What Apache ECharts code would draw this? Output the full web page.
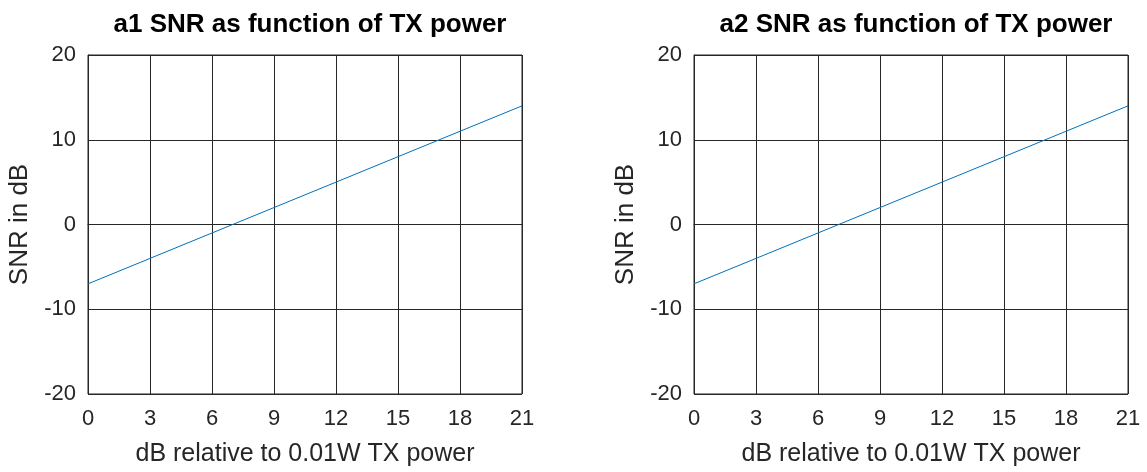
<!DOCTYPE html>
<html>
<head>
<meta charset="utf-8">
<script src="https://cdn.jsdelivr.net/npm/echarts@6/dist/echarts.min.js"></script>
<style>
html,body{margin:0;padding:0;background:#fff;}
#chart{width:1147px;height:472px;}
</style>
</head>
<body>
<div id="chart"></div>
<script>
// Data
const powerDb = [0, 3, 6, 9, 12, 15, 18, 21];
const snrA1 = [-7, -4, -1, 2, 5, 8, 11, 14];
const snrA2 = [-7, -4, -1, 2, 5, 8, 11, 14];
const titles = ['a1 SNR as function of TX power', 'a2 SNR as function of TX power'];
const xName = 'dB relative to 0.01W TX power';
const yName = 'SNR in dB';

const FONT = 'Liberation Sans, Arial, Helvetica, sans-serif';
const TXT = '#262626';
const GRIDC = '#262626';
const LINEC = '#0072BD';

const chart = echarts.init(document.getElementById('chart'));
const grids = [
  {left: 88, right: 625, top: 55, bottom: 76},
  {left: 694, right: 19, top: 55, bottom: 76}
];
function xAxisFor(i) {
  return {
    gridIndex: i, type: 'value', min: 0, max: 21, interval: 3,
    name: xName, nameLocation: 'middle', nameGap: 48,
    nameTextStyle: {fontFamily: FONT, fontSize: 25, color: TXT},
    axisLine: {show: true, lineStyle: {color: GRIDC, width: 1}},
    axisTick: {show: false},
    axisLabel: {fontFamily: FONT, fontSize: 22, color: TXT, margin: 14},
    splitLine: {show: true, lineStyle: {color: GRIDC, width: 1}}
  };
}
function yAxisFor(i) {
  return {
    gridIndex: i, type: 'value', min: -20, max: 20, interval: 10,
    name: yName, nameLocation: 'middle', nameGap: 55, nameRotate: 90,
    nameTextStyle: {fontFamily: FONT, fontSize: 26, color: TXT},
    axisLine: {show: true, lineStyle: {color: GRIDC, width: 1}},
    axisTick: {show: false},
    axisLabel: {fontFamily: FONT, fontSize: 22, color: TXT, margin: 12},
    splitLine: {show: true, lineStyle: {color: GRIDC, width: 1}}
  };
}
const series = [snrA1, snrA2].map((ys, i) => ({
  type: 'line', xAxisIndex: i, yAxisIndex: i,
  data: powerDb.map((x, k) => [x, ys[k]]),
  showSymbol: false, symbol: 'none',
  lineStyle: {color: LINEC, width: 1},
  animation: false
}));
chart.setOption({
  animation: false,
  backgroundColor: '#fff',
  title: titles.map((t, i) => ({
    text: t,
    left: i === 0 ? 305 : 911, top: 7, textAlign: 'center',
    textStyle: {fontFamily: FONT, fontSize: 26, fontWeight: 'bold', color: '#000'}
  })),
  grid: grids.map(g => Object.assign({show: true, borderColor: GRIDC, borderWidth: 1, backgroundColor: 'transparent'}, g)),
  xAxis: [xAxisFor(0), xAxisFor(1)],
  yAxis: [yAxisFor(0), yAxisFor(1)],
  series: series
});
</script>
</body>
</html>
